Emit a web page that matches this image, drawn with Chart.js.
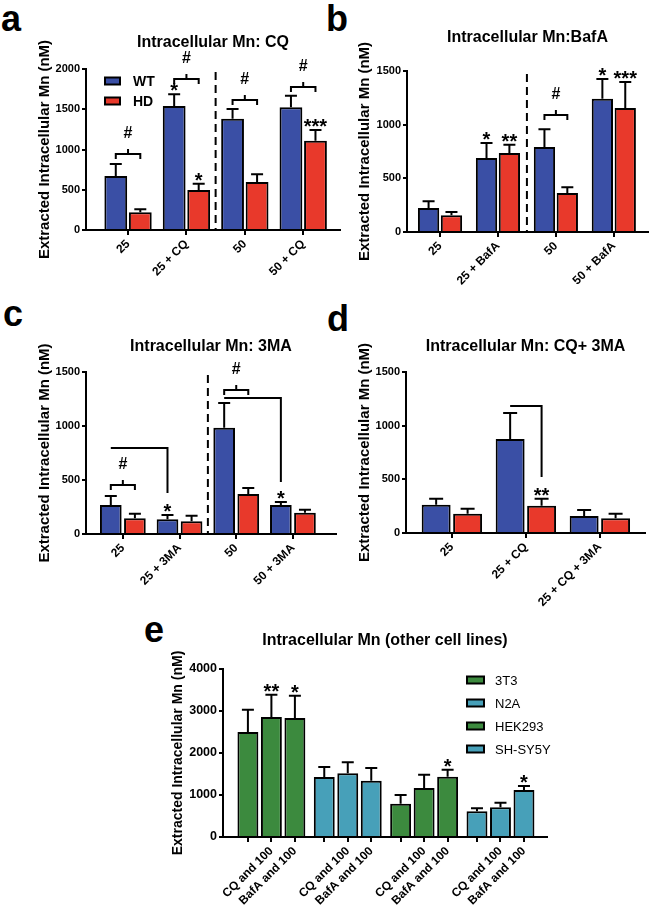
<!DOCTYPE html>
<html>
<head>
<meta charset="utf-8">
<script src="https://cdn.jsdelivr.net/npm/chart.js@4"></script>
<style>
body { margin: 0; background: #fff; width: 650px; height: 911px; position: relative; overflow: hidden; }
canvas { position: absolute; }
.lt { position: absolute; font: bold 36px "Liberation Sans", Arial, sans-serif; line-height: 1; color: #000; }
</style>
</head>
<body>
<div class="lt" style="left:1px;top:1px">a</div>
<div class="lt" style="left:326px;top:1px">b</div>
<div class="lt" style="left:3px;top:296px">c</div>
<div class="lt" style="left:327px;top:301px">d</div>
<div class="lt" style="left:144px;top:612px">e</div>
<canvas id="chartA"></canvas>
<canvas id="chartB"></canvas>
<canvas id="chartC"></canvas>
<canvas id="chartD"></canvas>
<canvas id="chartE"></canvas>
<script>
// panel a: CQ
var aCats = ['25', '25 + CQ', '50', '50 + CQ'];
var aWT = [671, 1540, 1383, 1524];
var aWTsem = [149, 145, 120, 145];
var aHD = [219, 497, 596, 1110];
var aHDsem = [38, 78, 95, 132];

// panel b: BafA
var bCats = ['25', '25 + BafA', '50', '50 + BafA'];
var bWT = [224, 689, 792, 1242];
var bWTsem = [62, 140, 165, 183];
var bHD = [155, 736, 363, 1155];
var bHDsem = [31, 78, 53, 243];

// panel c: 3MA
var cCats = ['25', '25 + 3MA', '50', '50 + 3MA'];
var cWT = [268, 136, 983, 268];
var cWTsem = [83, 40, 231, 28];
var cHD = [145, 117, 370, 197];
var cHDsem = [43, 52, 55, 28];

// panel d: CQ + 3MA
var dCats = ['25', '25 + CQ', '25 + CQ + 3MA'];
var dWT = [264, 876, 158];
var dWTsem = [56, 242, 56];
var dHD = [180, 255, 137];
var dHDsem = [47, 65, 43];

// panel e: other cell lines
var eLines = ['3T3', 'N2A', 'HEK293', 'SH-SY5Y'];
var eCats = ['', 'CQ and 100', 'BafA and 100'];
var e3T3 = [2500, 2857, 2833];
var e3T3sem = [532, 532, 532];
var eN2A = [1429, 1516, 1341];
var eN2Asem = [238, 262, 302];
var eHEK = [794, 1167, 1437];
var eHEKsem = [206, 317, 166];
var eSH = [611, 706, 1119];
var eSHsem = [72, 111, 95];

var BLUE = '#3a4fa5', RED = '#e8392b', GREEN = '#3c8a3e', TEAL = '#47a0b9';
var FONT = '"Liberation Sans", Arial, sans-serif';
Chart.defaults.font.family = FONT;
Chart.defaults.color = '#000';

function xy(vals, pos) {
  return vals.map(function (v, i) { return { x: pos[i], y: v }; });
}
function idx(n) {
  var r = [];
  for (var i = 0; i < n; i++) r.push(i);
  return r;
}

var marks = {
  id: 'marks',
  afterDatasetsDraw: function (chart, args, o) {
    var ctx = chart.ctx, xs = chart.scales.x, ys = chart.scales.y, ca = chart.chartArea;
    var bar = function (d, i) { return chart.getDatasetMeta(d).data[i]; };
    var errTop = function (d, i) {
      var ds = chart.data.datasets[d];
      return ys.getPixelForValue(ds.data[i].y + ds.sem[i]);
    };
    ctx.save();
    ctx.strokeStyle = '#000';
    ctx.fillStyle = '#000';
    ctx.lineWidth = 2;
    // error bars
    chart.data.datasets.forEach(function (ds, d) {
      chart.getDatasetMeta(d).data.forEach(function (b, i) {
        var t = errTop(d, i);
        ctx.beginPath();
        ctx.moveTo(b.x, b.y); ctx.lineTo(b.x, t);
        ctx.moveTo(b.x - o.cap, t); ctx.lineTo(b.x + o.cap, t);
        ctx.stroke();
      });
    });
    // dashed divider
    if (o.divider != null) {
      var dx = xs.getPixelForValue(o.divider);
      ctx.setLineDash([8, 5]);
      ctx.beginPath(); ctx.moveTo(dx, ca.top + 3); ctx.lineTo(dx, ca.bottom); ctx.stroke();
      ctx.setLineDash([]);
    }
    ctx.textAlign = 'center';
    // # brackets
    (o.brackets || []).forEach(function (k) {
      var x1 = bar(0, k.i).x, x2 = bar(1, k.i).x, y = ys.getPixelForValue(k.v), m = (x1 + x2) / 2;
      ctx.beginPath();
      ctx.moveTo(x1, y + 5); ctx.lineTo(x1, y); ctx.lineTo(x2, y); ctx.lineTo(x2, y + 5);
      ctx.moveTo(m, y); ctx.lineTo(m, y - 5);
      ctx.stroke();
      ctx.font = 'bold 16px ' + FONT;
      ctx.fillText('#', m, y - 16);
    });
    // comparison lines
    (o.links || []).forEach(function (k) {
      var p = bar(k.a[0], k.a[1]), q = bar(k.b[0], k.b[1]);
      var y = ys.getPixelForValue(k.v), y2 = ys.getPixelForValue(k.end);
      ctx.beginPath();
      ctx.moveTo(p.x, y); ctx.lineTo(q.x, y); ctx.lineTo(q.x, y2);
      ctx.stroke();
    });
    // stars
    ctx.font = 'bold 20px ' + FONT;
    (o.stars || []).forEach(function (s) {
      ctx.fillText(s.t, bar(s.d, s.i).x, errTop(s.d, s.i) + 3);
    });
    // title
    ctx.font = 'bold 16px ' + FONT;
    ctx.textBaseline = 'middle';
    ctx.fillText(o.title, (ca.left + ca.right) / 2, o.titleY);
    // legend
    if (o.legend) {
      var L = o.legend;
      ctx.textAlign = 'left';
      ctx.font = L.font;
      chart.data.datasets.forEach(function (ds, d) {
        var bx = ca.left + L.dx, by = ca.top + L.dy + d * L.step;
        ctx.fillStyle = ds.backgroundColor;
        ctx.fillRect(bx, by - 3.5, L.w, 7);
        ctx.strokeRect(bx, by - 3.5, L.w, 7);
        ctx.fillStyle = '#000';
        ctx.fillText(ds.label, bx + L.tx, by + 1);
      });
    }
    ctx.restore();
  }
};

function makeChart(id, box, g, cfg) {
  var cv = document.getElementById(id);
  cv.style.left = box.l + 'px';
  cv.style.top = box.t + 'px';
  cv.width = box.w;
  cv.height = box.h;
  var padLeft = Math.round(g.titleX - box.l - cfg.yTitleSize * 0.6);
  cfg.marks.titleY = g.titleY - box.t;
  return new Chart(cv, {
    type: 'bar',
    data: { datasets: cfg.datasets },
    options: {
      responsive: false,
      animation: false,
      layout: { padding: { left: padLeft, top: g.top - box.t, right: box.l + box.w - g.right, bottom: 0 } },
      plugins: { legend: { display: false }, tooltip: { enabled: false }, marks: cfg.marks },
      datasets: { bar: { categoryPercentage: cfg.cat, barPercentage: cfg.bar, borderColor: '#000', borderWidth: 2, grouped: cfg.grouped } },
      scales: {
        x: {
          type: 'linear', min: cfg.xMin, max: cfg.xMax, offset: false,
          afterBuildTicks: function (s) { s.ticks = cfg.tickAt.map(function (v) { return { value: v }; }); },
          afterFit: function (s) { s.height = box.t + box.h - g.bottom; },
          border: { color: '#000', width: 2 },
          grid: { offset: false, drawOnChartArea: false, color: '#000', lineWidth: 2, tickLength: 5 },
          ticks: {
            autoSkip: false, minRotation: 45, maxRotation: 45, padding: 2, color: '#000',
            font: { weight: 'bold', size: 12 },
            callback: function (v, i) { return cfg.tickLabels[i]; }
          }
        },
        y: {
          min: 0, max: cfg.yMax,
          afterFit: function (s) { s.width = g.ax - box.l - padLeft; },
          border: { color: '#000', width: 2 },
          grid: { drawOnChartArea: false, color: '#000', lineWidth: 2, tickLength: 4 },
          ticks: {
            stepSize: cfg.yStep, padding: 2, color: '#000',
            font: { weight: 'bold', size: cfg.yTickSize },
            callback: function (v) { return String(v); }
          },
          title: { display: true, text: 'Extracted Intracellular Mn (nM)', color: '#000', padding: 0, font: { weight: 'bold', size: cfg.yTitleSize } }
        }
      }
    },
    plugins: [marks]
  });
}

function pair(wt, wtSem, hd, hdSem) {
  var p = idx(wt.length);
  return [
    { label: 'WT', data: xy(wt, p), sem: wtSem, backgroundColor: BLUE },
    { label: 'HD', data: xy(hd, p), sem: hdSem, backgroundColor: RED }
  ];
}

makeChart('chartA', { l: 0, t: 0, w: 345, h: 295 }, { ax: 86, top: 69, bottom: 230, right: 340, titleX: 45, titleY: 43 }, {
  datasets: pair(aWT, aWTsem, aHD, aHDsem), grouped: true, cat: 0.84, bar: 0.93,
  xMin: -0.72, xMax: 3.63, tickAt: idx(4), tickLabels: aCats,
  yMax: 2000, yStep: 500, yTickSize: 11, yTitleSize: 15,
  marks: {
    cap: 6, divider: 1.5, title: 'Intracellular Mn: CQ',
    brackets: [{ i: 0, v: 944 }, { i: 1, v: 1876 }, { i: 2, v: 1615 }, { i: 3, v: 1776 }],
    stars: [{ d: 0, i: 1, t: '*' }, { d: 1, i: 1, t: '*' }, { d: 1, i: 3, t: '***' }],
    legend: { dx: 19, dy: 12, step: 20, w: 15, tx: 28, font: 'bold 14px ' + FONT }
  }
});

makeChart('chartB', { l: 325, t: 0, w: 325, h: 295 }, { ax: 407, top: 71, bottom: 232, right: 648, titleX: 365, titleY: 38 }, {
  datasets: pair(bWT, bWTsem, bHD, bHDsem), grouped: true, cat: 0.79, bar: 0.93,
  xMin: -0.57, xMax: 3.59, tickAt: idx(4), tickLabels: bCats,
  yMax: 1500, yStep: 500, yTickSize: 11, yTitleSize: 15,
  marks: {
    cap: 6, divider: 1.5, title: 'Intracellular Mn:BafA',
    brackets: [{ i: 2, v: 1090 }],
    stars: [{ d: 0, i: 1, t: '*' }, { d: 1, i: 1, t: '**' }, { d: 0, i: 3, t: '*' }, { d: 1, i: 3, t: '***' }]
  }
});

makeChart('chartC', { l: 0, t: 295, w: 340, h: 300 }, { ax: 86, top: 372, bottom: 534, right: 336, titleX: 45, titleY: 347 }, {
  datasets: pair(cWT, cWTsem, cHD, cHDsem), grouped: true, cat: 0.85, bar: 0.9,
  xMin: -0.65, xMax: 3.76, tickAt: idx(4), tickLabels: cCats,
  yMax: 1500, yStep: 500, yTickSize: 11, yTitleSize: 15,
  marks: {
    cap: 6, divider: 1.5, title: 'Intracellular Mn: 3MA',
    brackets: [{ i: 0, v: 454 }, { i: 2, v: 1333 }],
    links: [{ a: [0, 0], b: [0, 1], v: 796, end: 380 }, { a: [0, 2], b: [0, 3], v: 1259, end: 481 }],
    stars: [{ d: 0, i: 1, t: '*' }, { d: 0, i: 3, t: '*' }]
  }
});

makeChart('chartD', { l: 325, t: 295, w: 325, h: 320 }, { ax: 406, top: 372, bottom: 533, right: 645, titleX: 365, titleY: 347 }, {
  datasets: pair(dWT, dWTsem, dHD, dHDsem), grouped: true, cat: 0.85, bar: 0.92,
  xMin: -0.62, xMax: 2.61, tickAt: idx(3), tickLabels: dCats,
  yMax: 1500, yStep: 500, yTickSize: 11, yTitleSize: 15,
  marks: {
    cap: 7, title: 'Intracellular Mn: CQ+ 3MA',
    links: [{ a: [0, 1], b: [1, 1], v: 1183, end: 521 }],
    stars: [{ d: 1, i: 1, t: '**' }]
  }
});

// panel e: each cell line is a group of three bars
var eGroupStep = 3.25;
function ePos(g) { return eCats.map(function (c, j) { return g * eGroupStep + j; }); }
var eTickAt = [], eTickLabels = [];
eLines.forEach(function (n, g) { eTickAt = eTickAt.concat(ePos(g)); eTickLabels = eTickLabels.concat(eCats); });

makeChart('chartE', { l: 130, t: 605, w: 520, h: 306 }, { ax: 223, top: 669, bottom: 837, right: 547, titleX: 178, titleY: 641 }, {
  datasets: [
    { label: eLines[0], data: xy(e3T3, ePos(0)), sem: e3T3sem, backgroundColor: GREEN },
    { label: eLines[1], data: xy(eN2A, ePos(1)), sem: eN2Asem, backgroundColor: TEAL },
    { label: eLines[2], data: xy(eHEK, ePos(2)), sem: eHEKsem, backgroundColor: GREEN },
    { label: eLines[3], data: xy(eSH, ePos(3)), sem: eSHsem, backgroundColor: TEAL }
  ],
  grouped: false, cat: 1, bar: 0.89,
  xMin: -1.06, xMax: 12.73, tickAt: eTickAt, tickLabels: eTickLabels,
  yMax: 4000, yStep: 1000, yTickSize: 12.5, yTitleSize: 14,
  marks: {
    cap: 6, title: 'Intracellular Mn (other cell lines)',
    stars: [{ d: 0, i: 1, t: '**' }, { d: 0, i: 2, t: '*' }, { d: 2, i: 2, t: '*' }, { d: 3, i: 2, t: '*' }],
    legend: { dx: 244, dy: 11, step: 23, w: 17, tx: 28, font: '13px ' + FONT }
  }
});
</script>
</body>
</html>
